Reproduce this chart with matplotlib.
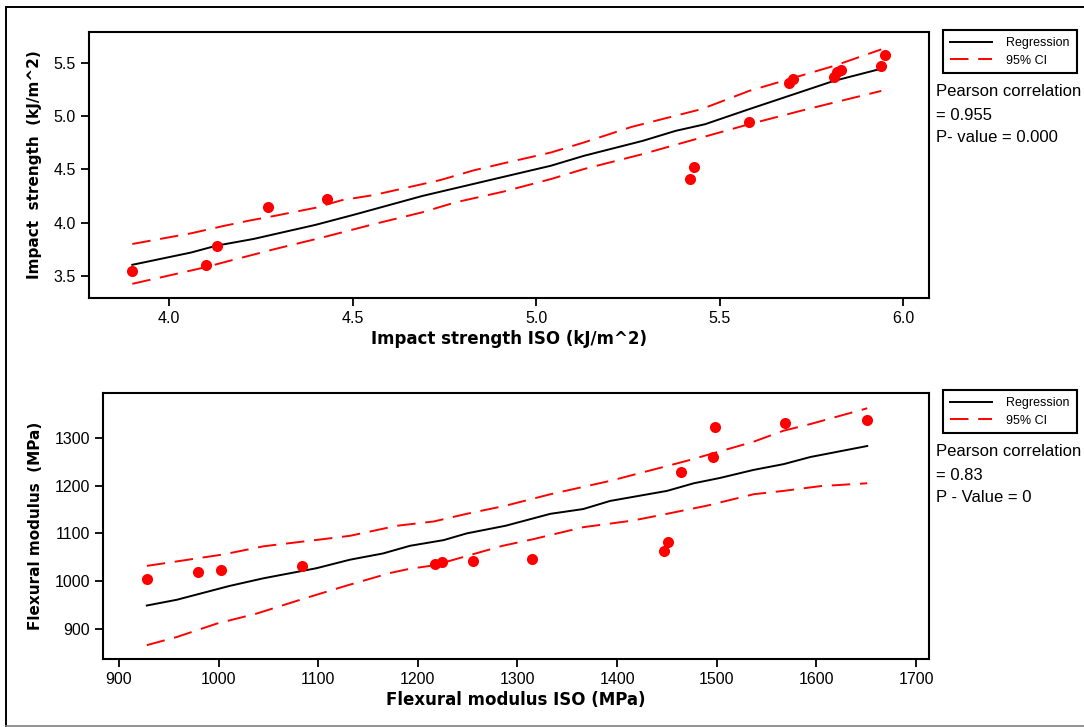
import matplotlib
matplotlib.use('Agg')
import matplotlib.pyplot as plt
from matplotlib.lines import Line2D

plt.rcParams['font.family'] = ['Liberation Sans', 'DejaVu Sans']

# top panel: impact strength
imp_iso = [3.90, 4.10, 4.13, 4.27, 4.43, 5.42, 5.43, 5.58, 5.69, 5.70, 5.81, 5.82, 5.83, 5.94, 5.95]
imp = [3.55, 3.60, 3.78, 4.15, 4.22, 4.41, 4.52, 4.94, 5.31, 5.35, 5.36, 5.41, 5.43, 5.47, 5.57]

imp_reg_x = [3.90, 4.06, 4.13, 4.23, 4.40, 4.51, 4.69, 4.90, 5.04, 5.13, 5.29, 5.38, 5.46, 5.58, 5.81, 5.94]
imp_reg_y = [3.605, 3.72, 3.785, 3.847, 3.98, 4.08, 4.25, 4.42, 4.533, 4.626, 4.766, 4.86, 4.922, 5.063, 5.327, 5.442]

imp_hi_x = [3.90, 4.06, 4.15, 4.22, 4.29, 4.40, 4.47, 4.56, 4.65, 4.74, 4.83, 4.91, 5.04, 5.13, 5.26, 5.45, 5.58, 5.81, 5.94]
imp_hi_y = [3.80, 3.90, 3.97, 4.02, 4.065, 4.14, 4.21, 4.26, 4.33, 4.40, 4.49, 4.555, 4.657, 4.751, 4.897, 5.063, 5.234, 5.467, 5.623]

imp_lo_x = [3.90, 3.98, 4.10, 4.15, 4.29, 4.42, 4.56, 4.69, 4.78, 4.91, 5.04, 5.13, 5.29, 5.37, 5.58, 5.72, 5.81, 5.94]
imp_lo_y = [3.427, 3.489, 3.583, 3.629, 3.754, 3.863, 3.988, 4.097, 4.19, 4.29, 4.408, 4.502, 4.642, 4.72, 4.922, 5.047, 5.124, 5.234]

# bottom panel: flexural modulus
flex_iso = [928, 979, 1002, 1084, 1217, 1224, 1255, 1315, 1447, 1451, 1464, 1496, 1498, 1568, 1651]
flex = [1004, 1020, 1024, 1032, 1036, 1040, 1043, 1047, 1064, 1083, 1228, 1260, 1323, 1331, 1338]

flex_reg_x = [928, 958, 1011, 1045, 1098, 1132, 1165, 1192, 1226, 1249, 1288, 1333, 1366, 1393, 1450, 1477, 1503, 1537, 1567, 1594, 1651]
flex_reg_y = [949, 961, 990, 1006, 1027, 1045, 1058, 1074, 1086, 1100, 1116, 1141, 1151, 1168, 1189, 1205, 1216, 1233, 1245, 1260, 1283]

flex_hi_x = [928, 1005, 1045, 1105, 1132, 1179, 1216, 1249, 1288, 1333, 1393, 1450, 1470, 1537, 1567, 1594, 1651]
flex_hi_y = [1032, 1056, 1073, 1088, 1095, 1116, 1125, 1141, 1158, 1182, 1210, 1241, 1252, 1292, 1315, 1329, 1362]

flex_lo_x = [928, 958, 998, 1038, 1085, 1129, 1172, 1192, 1216, 1285, 1316, 1366, 1416, 1450, 1490, 1537, 1567, 1604, 1651]
flex_lo_y = [866, 883, 911, 932, 963, 991, 1017, 1026, 1033, 1074, 1088, 1113, 1127, 1141, 1158, 1182, 1189, 1199, 1205]

W, H = 1084, 727
fig = plt.figure(figsize=(W / 100, H / 100), dpi=100)


def box(l, t, r, b):
    return [l / W, 1 - b / H, (r - l) / W, (b - t) / H]


def panel(ax, xs, ys, rx, ry, hx, hy, lx, ly, xlim, ylim, xticks, yticks,
          xlabel, ylabel, stats, legend_top):
    reg, = ax.plot(rx, ry, color='black', lw=1.4)
    ci, = ax.plot(hx, hy, color='red', lw=1.4, dashes=(9.5, 5))
    ax.plot(lx, ly, color='red', lw=1.4, dashes=(9.5, 5))
    ax.scatter(xs, ys, s=64, color='red', zorder=3, linewidths=0)
    ax.set_xlim(*xlim)
    ax.set_ylim(*ylim)
    ax.set_xticks(xticks)
    ax.set_yticks(yticks)
    ax.tick_params(labelsize=11.5, width=1.3, length=6, color='black')
    for sp in ax.spines.values():
        sp.set_linewidth(1.5)
    ax.set_xlabel(xlabel, fontsize=12, fontweight='bold', family='DejaVu Sans', labelpad=3)
    ax.set_ylabel(ylabel, fontsize=11, fontweight='bold', family='DejaVu Sans', labelpad=8)
    leg = fig.legend([reg, ci], ['Regression', '95% CI'], loc='upper left',
                     bbox_to_anchor=(943 / W, 1 - legend_top / H),
                     fontsize=9, fancybox=False, edgecolor='black',
                     framealpha=1, handlelength=3.4, borderpad=0.55,
                     labelspacing=0.45, handletextpad=1.1, borderaxespad=0)
    leg.get_frame().set_linewidth(1.5)
    for i, s in enumerate(stats):
        fig.text(936 / W, 1 - (legend_top + 62 + i * 23) / H, s,
                 fontsize=12, va='center', ha='left')


ax1 = fig.add_axes(box(89, 32, 929, 298))
panel(ax1, imp_iso, imp, imp_reg_x, imp_reg_y, imp_hi_x, imp_hi_y, imp_lo_x, imp_lo_y,
      (3.782, 6.07), (3.294, 5.786), [4.0, 4.5, 5.0, 5.5, 6.0], [3.5, 4.0, 4.5, 5.0, 5.5],
      'Impact strength ISO (kJ/m^2)', 'Impact  strength  (kJ/m^2)',
      ['Pearson correlation', '= 0.955', 'P- value = 0.000'], 30)

ax2 = fig.add_axes(box(103, 393, 929, 659))
panel(ax2, flex_iso, flex, flex_reg_x, flex_reg_y, flex_hi_x, flex_hi_y, flex_lo_x, flex_lo_y,
      (884, 1713), (837, 1394), list(range(900, 1701, 100)), list(range(900, 1301, 100)),
      'Flexural modulus ISO (MPa)', 'Flexural modulus  (MPa)',
      ['Pearson correlation', '= 0.83', 'P - Value = 0'], 390)

# outer frame
fig.add_artist(Line2D([6 / W, 6 / W], [1 - 726 / H, 1 - 7 / H], color='black', lw=1.4))
fig.add_artist(Line2D([6 / W, 1], [1 - 7 / H, 1 - 7 / H], color='black', lw=1.4))
fig.add_artist(Line2D([6 / W, 1], [1 - 726 / H, 1 - 726 / H], color='gray', lw=1.2))

fig.savefig('out.png', dpi=100)
